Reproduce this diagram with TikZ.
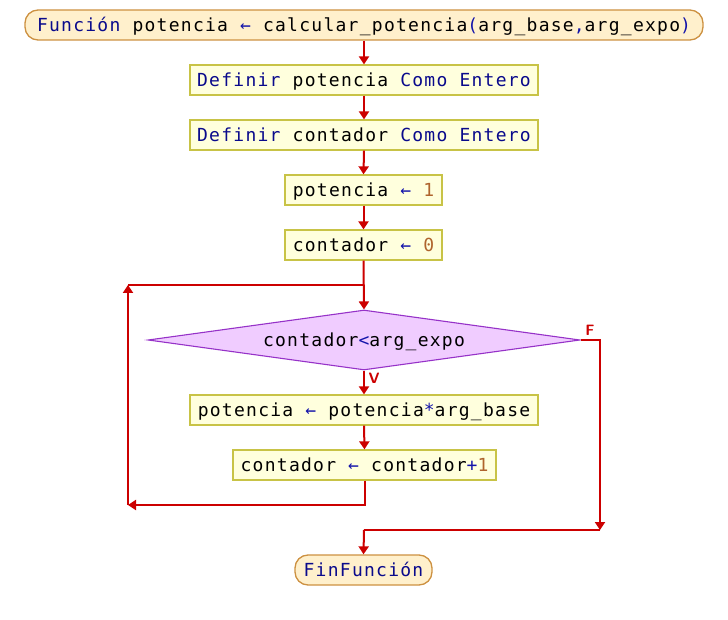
\documentclass[tikz,border=0pt]{standalone}
\usepackage{fontspec}
\usetikzlibrary{shapes.geometric,arrows.meta}
\newfontfamily\psmono[LetterSpace=7]{DejaVu Sans Mono}
\definecolor{kw}{RGB}{10,10,140}
\definecolor{op}{RGB}{20,20,170}
\definecolor{num}{RGB}{175,100,45}
\definecolor{boxfill}{RGB}{255,255,221}
\definecolor{boxline}{RGB}{200,195,70}
\definecolor{termfill}{RGB}{255,240,204}
\definecolor{termline}{RGB}{205,145,65}
\definecolor{decfill}{RGB}{240,204,255}
\definecolor{decline}{RGB}{150,50,200}
\definecolor{flow}{RGB}{204,0,0}
\newcommand{\kwd}[1]{\textcolor{kw}{#1}}
\newcommand{\opr}[1]{\textcolor{op}{#1}}
\newcommand{\numb}[1]{\textcolor{num}{#1}}
\begin{document}
\begin{tikzpicture}[x=1pt,y=-1pt,
  every node/.style={font=\psmono\fontsize{18}{20}\selectfont, text=black, text height=14pt, text depth=1pt},
  procbox/.style={draw=boxline, fill=boxfill, line width=1.3pt, minimum height=30pt, inner sep=0pt, anchor=center},
  termbox/.style={draw=termline, fill=termfill, line width=1.3pt, rounded corners=13pt, minimum height=30pt, inner sep=0pt},
  decbox/.style={shape=diamond, draw=decline, fill=decfill, line width=1.1pt, minimum width=432pt, minimum height=60pt, inner sep=0pt, shape aspect=7.2},
  flowline/.style={draw=flow, line width=2pt},
  arr/.style={flowline, -{Triangle[length=8pt,width=10pt]}},
  lbl/.style={font=\sffamily\bfseries\fontsize{15}{16}\selectfont, text=flow, text height=10pt, text depth=0pt}
]
\useasboundingbox (0,0) rectangle (728,620);
\node[termbox, minimum width=678pt] (start) at (364,25) {\kwd{Función} potencia \opr{←} calcular\_potencia\opr{(}arg\_base\opr{,}arg\_expo\opr{)}};
\node[procbox, minimum width=348pt] (b1) at (364,80) {\kwd{Definir} potencia \kwd{Como} \kwd{Entero}};
\node[procbox, minimum width=348pt] (b2) at (364,135) {\kwd{Definir} contador \kwd{Como} \kwd{Entero}};
\node[procbox, minimum width=157pt] (b3) at (363.5,190) {potencia \opr{←} \numb{1}};
\node[procbox, minimum width=157pt] (b4) at (363.5,245) {contador \opr{←} \numb{0}};
\node[decbox] (d) at (364,340) {contador\opr{<}arg\_expo};
\node[procbox, minimum width=348pt] (b5) at (364,410) {potencia \opr{←} potencia\opr{*}arg\_base};
\node[procbox, minimum width=263pt] (b6) at (364.5,465) {contador \opr{←} contador\opr{+}\numb{1}};
\node[termbox, minimum width=137pt] (fin) at (363.5,570) {\kwd{FinFunción}};
\node[lbl] (lf) at (590,330) {F};
\node[lbl] (lv) at (374,378) {V};
\coordinate (lb) at (128,505);
\coordinate (lt) at (128,285);
\coordinate (jt) at (364,285);
\coordinate (fr) at (600,340);
\coordinate (fb) at (600,530);
\coordinate (fm) at (364,530);
\draw[arr] (start.south) -- (b1.north);
\draw[arr] (b1.south) -- (b2.north);
\draw[arr] (b2.south) -- (b3.north);
\draw[arr] (b3.south) -- (b4.north);
\draw[arr] (b4.south) -- (d.north);
\draw[arr] (d.south) -- (b5.north);
\draw[arr] (b5.south) -- (b6.north);
\draw[arr] (b6.south) |- (lb);
\draw[arr] (lb) -- (lt);
\draw[flowline] (lt) -- (jt);
\draw[arr] (d.east) -- (fr) -- (fb);
\draw[flowline] (fb) -- (fm);
\draw[arr] (fm) -- (fin.north);
\end{tikzpicture}
\end{document}
